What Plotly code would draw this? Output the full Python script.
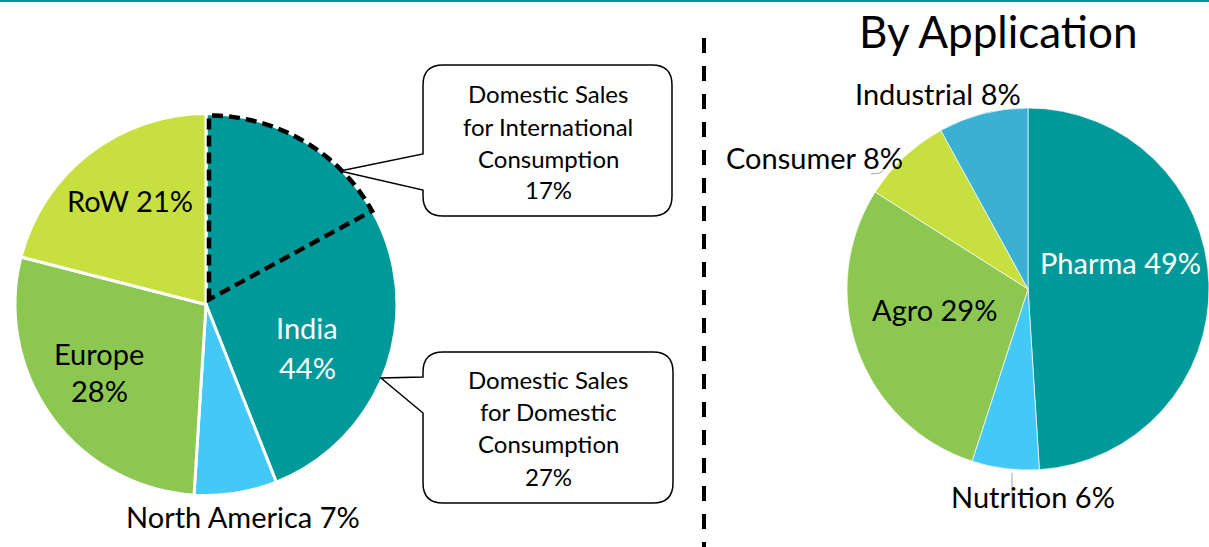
import math
import plotly.graph_objects as go

# ---------------- data ----------------
region_labels = ["India", "North America", "Europe", "RoW"]
region_values = [44, 7, 28, 21]
region_colors = ["#009999", "#44C8F5", "#8CC751", "#C7E03F"]

india_split_labels = ["Domestic Sales for International Consumption", "Domestic Sales for Domestic Consumption"]
india_split_values = [17, 27]

app_labels = ["Pharma", "Nutrition", "Agro", "Consumer", "Industrial"]
app_values = [49, 6, 29, 8, 8]
app_colors = ["#009999", "#44C8F5", "#8CC751", "#C7E03F", "#3AB0D2"]

W, H = 1209, 547
FONT = "Lato"
LBL = 29
BOX = 24


def X(px):
    return px / W


def Y(py):
    return 1 - py / H


fig = go.Figure()

# left pie geometry (pixels)
L_cx, L_cy, L_r = 206, 304.5, 191
fig.add_trace(go.Pie(
    labels=region_labels, values=region_values, sort=False, direction="clockwise", rotation=0,
    marker=dict(colors=region_colors, line=dict(color="white", width=3)),
    textinfo="none", hoverinfo="label+percent",
    domain=dict(x=[X(L_cx - L_r), X(L_cx + L_r)], y=[Y(L_cy + L_r), Y(L_cy - L_r)]),
))

# right pie geometry (pixels)
R_cx, R_cy, R_r = 1028, 289, 181
fig.add_trace(go.Pie(
    labels=app_labels, values=app_values, sort=False, direction="clockwise", rotation=0,
    marker=dict(colors=app_colors, line=dict(color="rgba(255,255,255,0.7)", width=1)),
    textinfo="none", hoverinfo="label+percent",
    domain=dict(x=[X(R_cx - R_r), 1.0], y=[Y(R_cy + R_r), Y(R_cy - R_r)]),
))

shapes = []
# top teal rule
shapes.append(dict(type="line", xref="paper", yref="paper", x0=0, x1=1, y0=Y(1), y1=Y(1),
                   line=dict(color="#009999", width=2)))
# vertical dashed divider
shapes.append(dict(type="line", xref="paper", yref="paper", x0=X(704), x1=X(704), y0=Y(38), y1=0,
                   line=dict(color="black", width=4, dash="15px,13px")))

# dashed sub-sector inside India slice (computed from data share)
frac = india_split_values[0] / sum(region_values)
ang = frac * 2 * math.pi
rr = L_r - 5
pts = [(L_cx + 3, L_cy - 5)]
n = 40
for i in range(n + 1):
    a = ang * i / n
    pts.append((L_cx + 3 + rr * math.sin(a), L_cy - 5 - (rr - 2) * math.cos(a)))
path = "M " + " L ".join(f"{X(p[0]):.5f},{Y(p[1]):.5f}" for p in pts) + " Z"
shapes.append(dict(type="path", xref="paper", yref="paper", path=path,
                   line=dict(color="black", width=4.5, dash="11px,6px")))


def callout(Lx, Rx, T, B, tip, ty0, ty1, r=20):
    def P(x, y):
        return f"{X(x):.5f},{Y(y):.5f}"
    d = (f"M {P(Lx + r, T)} L {P(Rx - r, T)} Q {P(Rx, T)} {P(Rx, T + r)} "
         f"L {P(Rx, B - r)} Q {P(Rx, B)} {P(Rx - r, B)} L {P(Lx + r, B)} "
         f"Q {P(Lx, B)} {P(Lx, B - r)} L {P(Lx, ty1)} L {P(tip[0], tip[1])} "
         f"L {P(Lx, ty0)} L {P(Lx, T + r)} Q {P(Lx, T)} {P(Lx + r, T)} Z")
    return dict(type="path", xref="paper", yref="paper", path=d, fillcolor="white",
                line=dict(color="black", width=1.5))


shapes.append(callout(423, 672, 65, 216, (340, 171), 154, 190))
shapes.append(callout(423, 673, 352, 503, (381, 378), 377, 413))

# leader lines on right pie
shapes.append(dict(type="path", xref="paper", yref="paper",
                   path=f"M {X(871):.5f},{Y(174):.5f} L {X(880):.5f},{Y(173):.5f} L {X(888):.5f},{Y(166):.5f}",
                   line=dict(color="#A6A6A6", width=1)))
shapes.append(dict(type="line", xref="paper", yref="paper", x0=X(1012), x1=X(1012), y0=Y(473), y1=Y(506),
                   line=dict(color="#A6A6A6", width=1)))

annotations = []


def ann(text, px, py, size=LBL, color="black"):
    annotations.append(dict(text=text, x=X(px), y=Y(py), xref="paper", yref="paper",
                            xanchor="center", yanchor="middle", showarrow=False,
                            font=dict(family=FONT, size=size, color=color)))


rv = dict(zip(region_labels, region_values))
ann(f"RoW {rv['RoW']}%", 130, 200)
ann("Europe", 99, 353)
ann(f"{rv['Europe']}%", 99, 390)
ann("India", 307, 327, color="white")
ann(f"{rv['India']}%", 307, 367, color="white")
ann(f"North America {rv['North America']}%", 243, 516)

for txt, yy in zip(["Domestic Sales", "for International", "Consumption", f"{india_split_values[0]}%"],
                   [93, 126, 158, 189]):
    ann(txt, 548, yy, size=BOX)
for txt, yy in zip(["Domestic Sales", "for Domestic", "Consumption", f"{india_split_values[1]}%"],
                   [379, 411, 443, 476]):
    ann(txt, 548, yy, size=BOX)

av = dict(zip(app_labels, app_values))
ann("By Application", 998, 31, size=44)
ann(f"Industrial {av['Industrial']}%", 938, 94)
ann(f"Consumer {av['Consumer']}%", 814, 157)
ann(f"Pharma {av['Pharma']}%", 1120, 262, color="white")
ann(f"Agro {av['Agro']}%", 934, 309)
ann(f"Nutrition {av['Nutrition']}%", 1033, 496)

fig.update_layout(
    width=W, height=H, margin=dict(l=0, r=0, t=0, b=0),
    paper_bgcolor="white", plot_bgcolor="white", showlegend=False,
    shapes=shapes, annotations=annotations,
    font=dict(family=FONT),
)

fig.write_html("out.html", config={"displayModeBar": False},
               post_script="document.body.style.margin='0';document.body.style.overflow='hidden';")
